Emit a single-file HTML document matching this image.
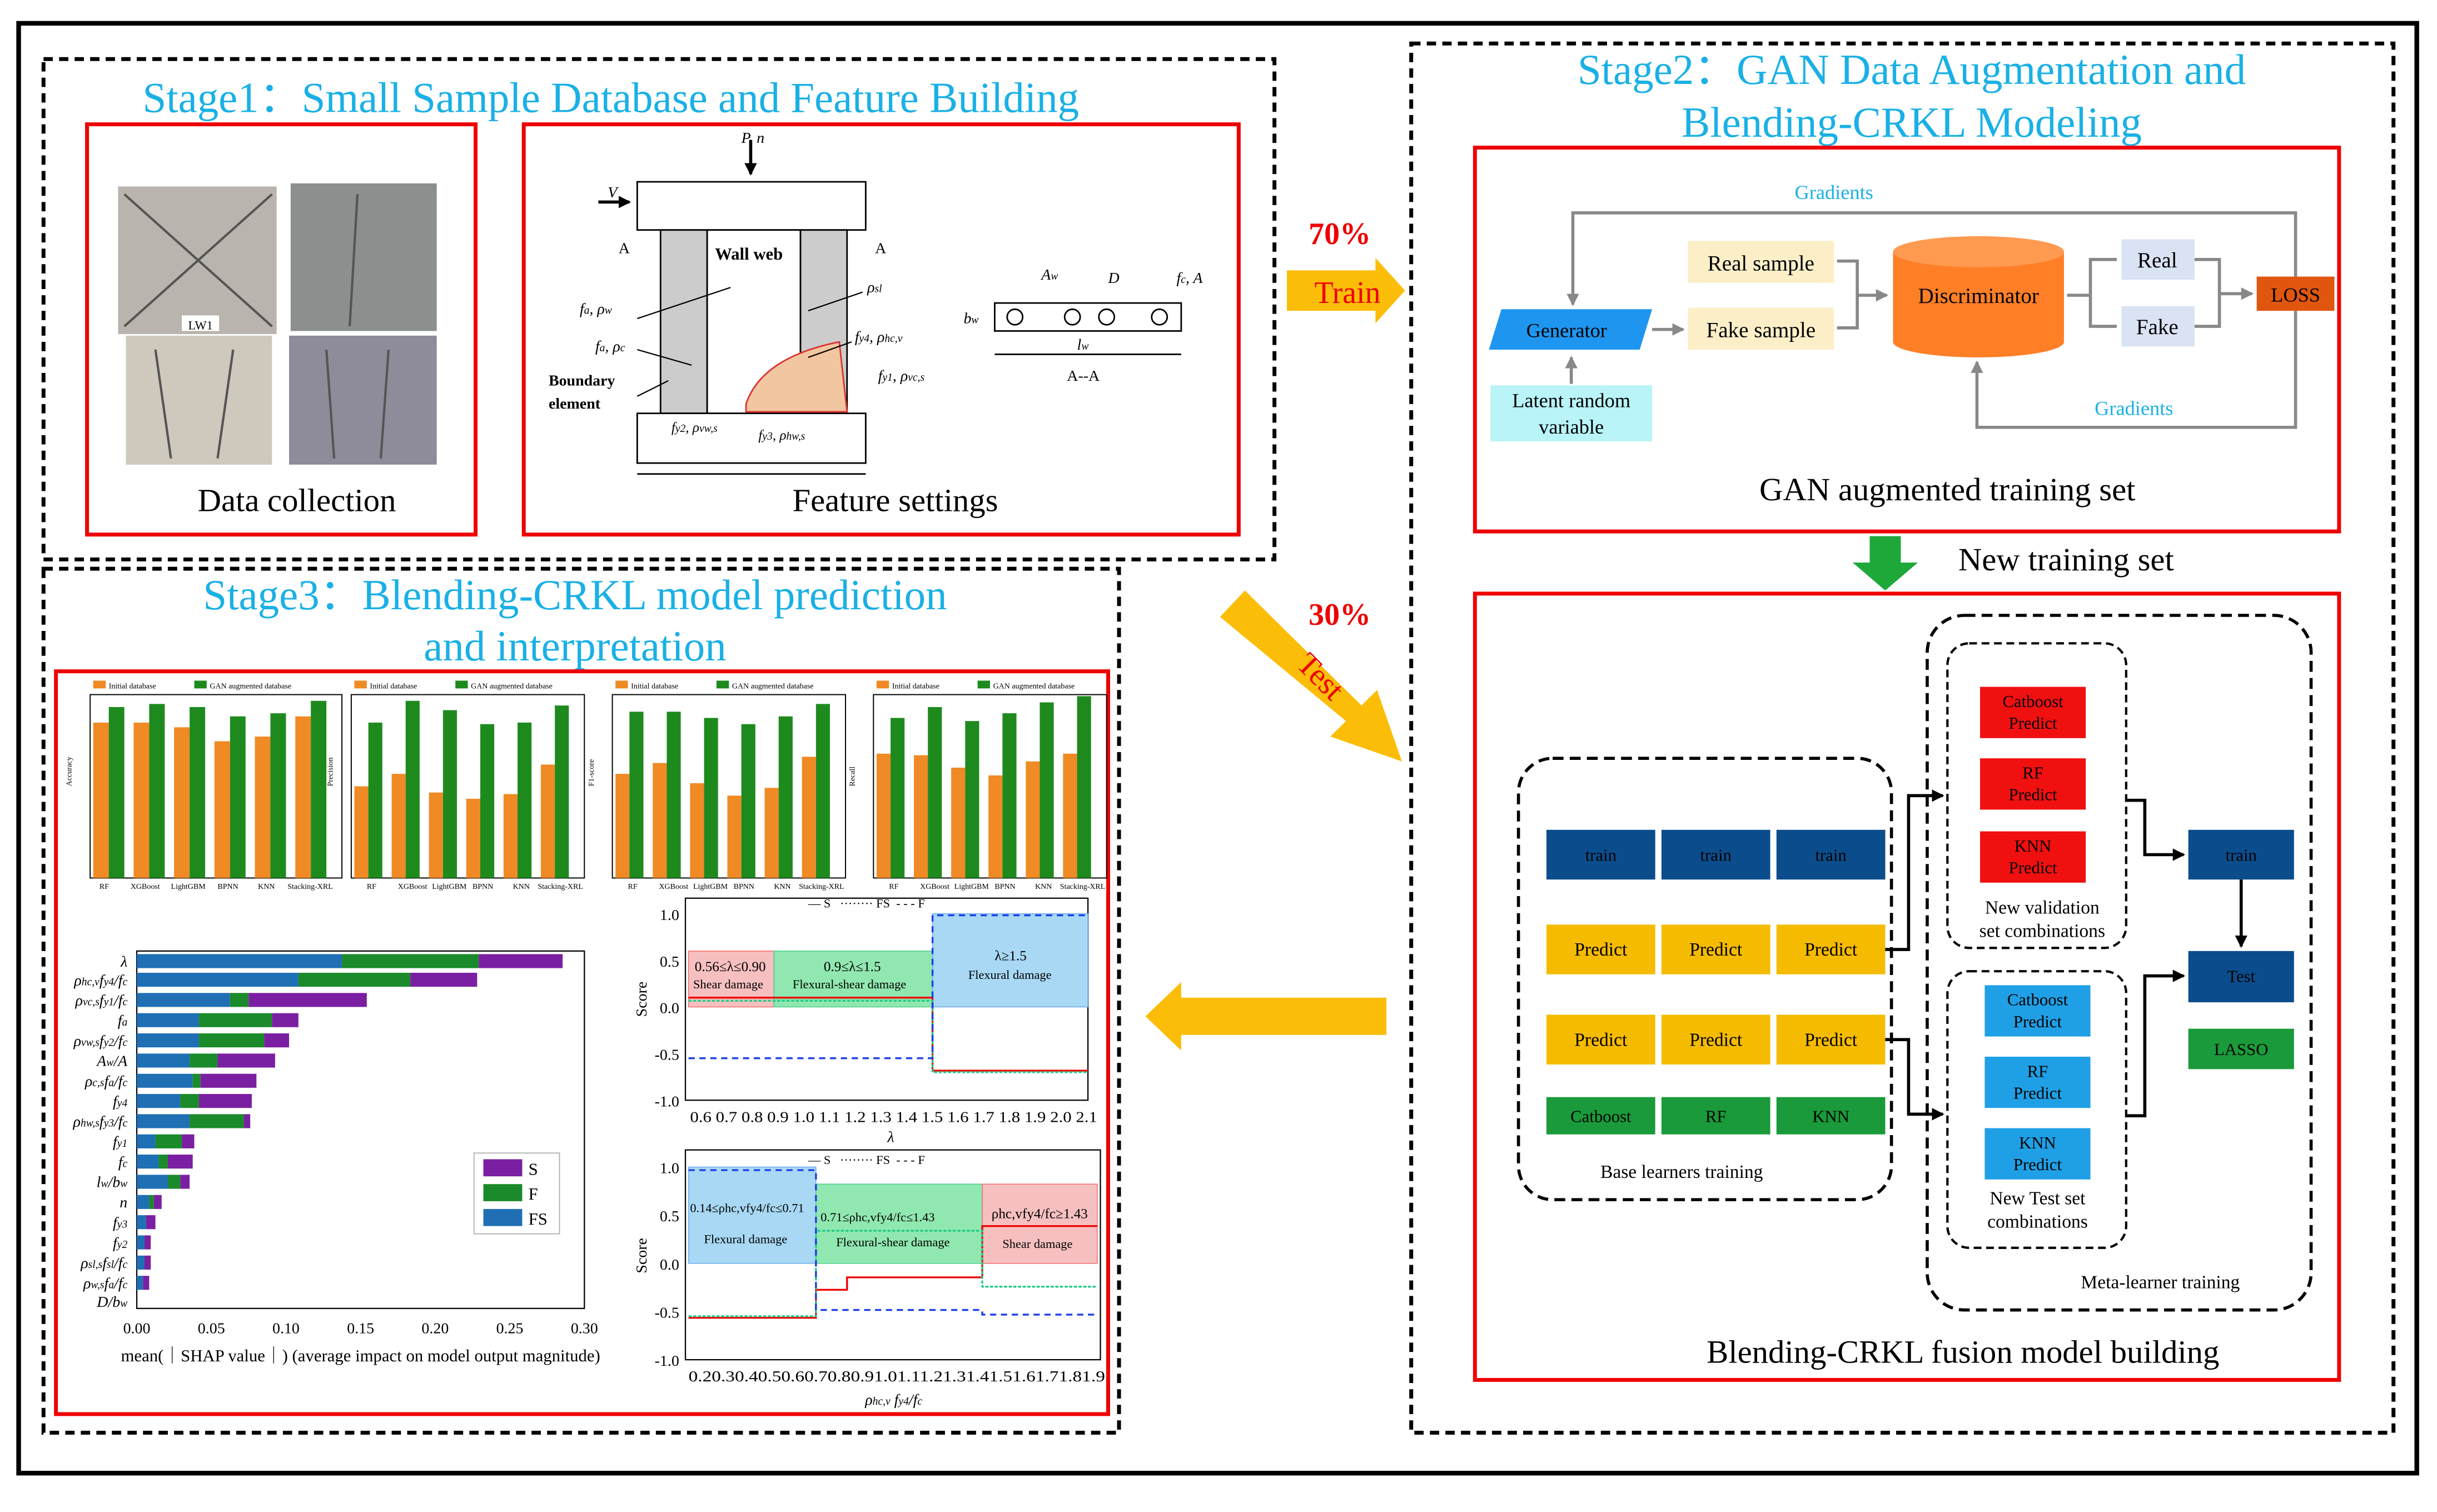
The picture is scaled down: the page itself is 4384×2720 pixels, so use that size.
<!DOCTYPE html>
<html><head><meta charset="utf-8"><style>
html,body{margin:0;padding:0;background:#fff;}
svg{display:block;}
text{font-family:"Liberation Serif",serif;}
</style></head><body>
<svg width="4384" height="2720" viewBox="0 0 1568 973" preserveAspectRatio="none" xmlns="http://www.w3.org/2000/svg">
<defs>
<marker id="ah" markerWidth="8" markerHeight="8" refX="7" refY="4" orient="auto" markerUnits="userSpaceOnUse"><path d="M0,0 L8,4 L0,8 z" fill="#000"/></marker>
<marker id="ahg" markerWidth="8" markerHeight="8" refX="7" refY="4" orient="auto" markerUnits="userSpaceOnUse"><path d="M0,0 L8,4 L0,8 z" fill="#888"/></marker>
</defs>
<rect x="0" y="0" width="1568" height="973" fill="#fff"/>
<rect x="12" y="15" width="1543" height="933" fill="none" stroke="#000" stroke-width="3"/>

<!-- Stage1 -->
<rect x="28" y="38" width="792" height="322" fill="none" stroke="#000" stroke-width="2.5" stroke-dasharray="6,4"/>
<text x="393" y="72" font-size="27.5" fill="#1ab0e6" text-anchor="middle">Stage1：Small Sample Database and Feature Building</text>
<rect x="56" y="80" width="250" height="264" fill="none" stroke="#e00" stroke-width="2.5"/>
<rect x="76" y="120" width="102" height="95" fill="#b9b4ad"/>
<rect x="187" y="118" width="94" height="95" fill="#8b8f8e"/>
<rect x="81" y="216" width="94" height="83" fill="#cfc8bd"/>
<rect x="186" y="216" width="95" height="83" fill="#8e8c9a"/>
<path d="M80,125 L175,210 M175,125 L80,210 M230,125 L225,210 M100,225 L110,295 M150,225 L140,295 M210,225 L215,295 M250,225 L245,295" stroke="#555" stroke-width="1.5"/>
<rect x="117" y="203" width="24" height="10" fill="#fff"/>
<text x="129" y="212" font-size="8" text-anchor="middle">LW1</text>
<text x="191" y="329" font-size="21" text-anchor="middle">Data collection</text>

<rect x="337" y="80" width="460" height="264" fill="none" stroke="#e00" stroke-width="2.5"/>
<rect x="410" y="117" width="147" height="31" fill="#fff" stroke="#000"/>
<rect x="425" y="148" width="30" height="118" fill="#ccc" stroke="#000"/>
<rect x="515" y="148" width="30" height="118" fill="#ccc" stroke="#000"/>
<rect x="455" y="148" width="60" height="118" fill="#fff" stroke="#000"/>
<rect x="410" y="266" width="147" height="32" fill="#fff" stroke="#000"/>
<path d="M410,305 L557,305" stroke="#000"/>
<path d="M480,260 Q490,230 540,220 L545,265 L480,265z" fill="#f2c6a0" stroke="#d33"/>
<path d="M483,90 L483,112" stroke="#000" stroke-width="2" marker-end="url(#ah)"/>
<text x="477" y="92" font-size="10" font-style="italic">P, n</text>
<path d="M385,130 L405,130" stroke="#000" stroke-width="2" marker-end="url(#ah)"/>
<text x="391" y="127" font-size="10" font-style="italic">V</text>
<text x="460" y="167" font-size="11" font-weight="bold">Wall web</text>
<text x="398" y="163" font-size="10">A</text><text x="563" y="163" font-size="10">A</text>
<text x="373" y="202" font-size="10" font-style="italic">f<tspan font-size="7">a</tspan>, ρ<tspan font-size="7">w</tspan></text>
<text x="383" y="226" font-size="10" font-style="italic">f<tspan font-size="7">a</tspan>, ρ<tspan font-size="7">c</tspan></text>
<text x="353" y="248" font-size="10" font-weight="bold">Boundary</text>
<text x="353" y="263" font-size="10" font-weight="bold">element</text>
<text x="558" y="188" font-size="10" font-style="italic">ρ<tspan font-size="7">sl</tspan></text>
<text x="550" y="220" font-size="10" font-style="italic">f<tspan font-size="7">y4</tspan>, ρ<tspan font-size="7">hc,v</tspan></text>
<text x="565" y="245" font-size="10" font-style="italic">f<tspan font-size="7">y1</tspan>, ρ<tspan font-size="7">vc,s</tspan></text>
<text x="432" y="278" font-size="9" font-style="italic">f<tspan font-size="7">y2</tspan>, ρ<tspan font-size="7">vw,s</tspan></text>
<text x="488" y="283" font-size="9" font-style="italic">f<tspan font-size="7">y3</tspan>, ρ<tspan font-size="7">hw,s</tspan></text>
<path d="M410,205 L470,185 M410,225 L445,235 M410,255 L430,245 M555,188 L520,200 M548,220 L520,230" stroke="#000" stroke-width="0.8"/>
<rect x="640" y="195" width="120" height="18" fill="none" stroke="#000"/>
<circle cx="653" cy="204" r="5" fill="none" stroke="#000"/><circle cx="690" cy="204" r="5" fill="none" stroke="#000"/><circle cx="712" cy="204" r="5" fill="none" stroke="#000"/><circle cx="746" cy="204" r="5" fill="none" stroke="#000"/>
<path d="M640,228 L760,228" stroke="#000"/>
<text x="670" y="180" font-size="10" font-style="italic">A<tspan font-size="7">w</tspan></text>
<text x="713" y="182" font-size="10" font-style="italic">D</text>
<text x="757" y="182" font-size="10" font-style="italic">f<tspan font-size="7">c</tspan>, A</text>
<text x="693" y="225" font-size="10" font-style="italic">l<tspan font-size="7">w</tspan></text>
<text x="620" y="208" font-size="10" font-style="italic">b<tspan font-size="7">w</tspan></text>
<text x="697" y="245" font-size="10" text-anchor="middle">A--A</text>
<text x="576" y="329" font-size="21" text-anchor="middle">Feature settings</text>

<!-- 70% Train -->
<text x="862" y="157" font-size="20" font-weight="bold" fill="#e00" text-anchor="middle">70%</text>
<path d="M828,174 L885,174 L885,166 L904,187 L885,208 L885,200 L828,200z" fill="#fbbd08"/>
<text x="867" y="195" font-size="20" fill="#e00" text-anchor="middle">Train</text>
<text x="862" y="402" font-size="20" font-weight="bold" fill="#e00" text-anchor="middle">30%</text>
<path d="M785,397 L801,380 L876,454 L886,444 L902,490 L856,474 L866,464z" fill="#fbbd08"/>
<text x="845" y="440" font-size="20" fill="#e00" text-anchor="middle" transform="rotate(45 845 440)">Test</text>
<path d="M737,654 L760,632 L760,642 L892,642 L892,666 L760,666 L760,676z" fill="#fbbd08"/>

<!-- Stage2 -->
<rect x="908" y="28" width="632" height="894" fill="none" stroke="#000" stroke-width="2.5" stroke-dasharray="6,4"/>
<text x="1230" y="54" font-size="27.5" fill="#1ab0e6" text-anchor="middle">Stage2：GAN Data Augmentation and</text>
<text x="1230" y="88" font-size="27.5" fill="#1ab0e6" text-anchor="middle">Blending-CRKL Modeling</text>
<rect x="949" y="95" width="556" height="247" fill="none" stroke="#e00" stroke-width="2.5"/>
<text x="1180" y="128" font-size="13" fill="#1ab0e6" text-anchor="middle" font-family="Liberation Sans">Gradients</text>
<path d="M1477,178 L1477,137 L1012,137 L1012,196" fill="none" stroke="#888" stroke-width="2" marker-end="url(#ahg)"/>
<path d="M1477,200 L1477,275 L1272,275 L1272,233" fill="none" stroke="#888" stroke-width="2" marker-end="url(#ahg)"/>
<text x="1373" y="267" font-size="13" fill="#1ab0e6" text-anchor="middle" font-family="Liberation Sans">Gradients</text>
<path d="M966,199 L1063,199 L1055,225 L958,225z" fill="#1e96f0"/>
<text x="1008" y="217" font-size="13" text-anchor="middle" font-family="Liberation Sans">Generator</text>
<rect x="959" y="248" width="104" height="36" fill="#b8f4f8"/>
<text x="1011" y="262" font-size="13" text-anchor="middle">Latent random</text>
<text x="1011" y="279" font-size="13" text-anchor="middle">variable</text>
<path d="M1011,247 L1011,230" stroke="#888" stroke-width="2" marker-end="url(#ahg)"/>
<path d="M1063,212 L1083,212" stroke="#888" stroke-width="2" marker-end="url(#ahg)"/>
<rect x="1086" y="155" width="94" height="27" fill="#fcefc8"/>
<text x="1133" y="174" font-size="14" text-anchor="middle">Real sample</text>
<rect x="1086" y="198" width="94" height="27" fill="#fcefc8"/>
<text x="1133" y="217" font-size="14" text-anchor="middle">Fake sample</text>
<path d="M1182,168 L1195,168 L1195,190 M1182,211 L1195,211 L1195,190 L1214,190" fill="none" stroke="#888" stroke-width="2" marker-end="url(#ahg)"/>
<path d="M1218,162 L1218,220 A55,10 0 0 0 1328,220 L1328,162z" fill="#ff7f27"/>
<ellipse cx="1273" cy="162" rx="55" ry="10" fill="#ff9a50"/>
<text x="1273" y="195" font-size="14" text-anchor="middle" font-family="Liberation Sans">Discriminator</text>
<path d="M1330,190 L1345,190 L1345,167 L1362,167 M1345,190 L1345,210 L1362,210" fill="none" stroke="#888" stroke-width="2"/>
<rect x="1365" y="154" width="47" height="26" fill="#d9e3f3"/>
<text x="1388" y="172" font-size="14" text-anchor="middle">Real</text>
<rect x="1365" y="197" width="47" height="26" fill="#d9e3f3"/>
<text x="1388" y="215" font-size="14" text-anchor="middle">Fake</text>
<path d="M1412,167 L1428,167 L1428,189 M1412,210 L1428,210 L1428,189 L1449,189" fill="none" stroke="#888" stroke-width="2" marker-end="url(#ahg)"/>
<rect x="1452" y="178" width="50" height="22" fill="#e0560e"/>
<text x="1477" y="194" font-size="13" text-anchor="middle" font-family="Liberation Sans">LOSS</text>
<text x="1253" y="322" font-size="21" text-anchor="middle">GAN augmented training set</text>

<path d="M1203,345 L1223,345 L1223,362 L1234,362 L1213,380 L1192,362 L1203,362z" fill="#1ea83a"/>
<text x="1260" y="367" font-size="21">New training set</text>

<rect x="949" y="382" width="556" height="506" fill="none" stroke="#e00" stroke-width="2.5"/>
<rect x="977" y="488" width="240" height="284" rx="22" fill="none" stroke="#000" stroke-width="2" stroke-dasharray="7,4"/>
<rect x="1240" y="396" width="247" height="447" rx="24" fill="none" stroke="#000" stroke-width="2" stroke-dasharray="7,4"/>
<rect x="1253" y="414" width="115" height="196" rx="14" fill="none" stroke="#000" stroke-width="1.5" stroke-dasharray="5,3"/>
<rect x="1253" y="625" width="115" height="178" rx="14" fill="none" stroke="#000" stroke-width="1.5" stroke-dasharray="5,3"/>
<g font-family="Liberation Sans" font-size="11" text-anchor="middle">
<rect x="995" y="534" width="70" height="32" fill="#0b4d8c"/><text x="1030" y="554">train</text>
<rect x="1069" y="534" width="70" height="32" fill="#0b4d8c"/><text x="1104" y="554">train</text>
<rect x="1143" y="534" width="70" height="32" fill="#0b4d8c"/><text x="1178" y="554">train</text>
<rect x="995" y="595" width="70" height="32" fill="#f5bb00"/><text x="1030" y="615" font-size="12">Predict</text>
<rect x="1069" y="595" width="70" height="32" fill="#f5bb00"/><text x="1104" y="615" font-size="12">Predict</text>
<rect x="1143" y="595" width="70" height="32" fill="#f5bb00"/><text x="1178" y="615" font-size="12">Predict</text>
<rect x="995" y="653" width="70" height="32" fill="#f5bb00"/><text x="1030" y="673" font-size="12">Predict</text>
<rect x="1069" y="653" width="70" height="32" fill="#f5bb00"/><text x="1104" y="673" font-size="12">Predict</text>
<rect x="1143" y="653" width="70" height="32" fill="#f5bb00"/><text x="1178" y="673" font-size="12">Predict</text>
<rect x="995" y="706" width="70" height="24" fill="#1a9a3a"/><text x="1030" y="722">Catboost</text>
<rect x="1069" y="706" width="70" height="24" fill="#1a9a3a"/><text x="1104" y="722">RF</text>
<rect x="1143" y="706" width="70" height="24" fill="#1a9a3a"/><text x="1178" y="722">KNN</text>
<rect x="1274" y="442" width="68" height="33" fill="#f01010"/><text x="1308" y="455">Catboost</text><text x="1308" y="469">Predict</text>
<rect x="1274" y="488" width="68" height="33" fill="#f01010"/><text x="1308" y="501">RF</text><text x="1308" y="515">Predict</text>
<rect x="1274" y="535" width="68" height="33" fill="#f01010"/><text x="1308" y="548">KNN</text><text x="1308" y="562">Predict</text>
<rect x="1277" y="634" width="68" height="33" fill="#1fa0e6"/><text x="1311" y="647">Catboost</text><text x="1311" y="661">Predict</text>
<rect x="1277" y="680" width="68" height="33" fill="#1fa0e6"/><text x="1311" y="693">RF</text><text x="1311" y="707">Predict</text>
<rect x="1277" y="726" width="68" height="33" fill="#1fa0e6"/><text x="1311" y="739">KNN</text><text x="1311" y="753">Predict</text>
<rect x="1408" y="534" width="68" height="32" fill="#0b4d8c"/><text x="1442" y="554">train</text>
<rect x="1408" y="612" width="68" height="33" fill="#0b4d8c"/><text x="1442" y="632">Test</text>
<rect x="1408" y="662" width="68" height="26" fill="#1a9a3a"/><text x="1442" y="679">LASSO</text>
</g>
<g font-size="12" text-anchor="middle">
<text x="1314" y="588">New validation</text><text x="1314" y="603">set combinations</text>
<text x="1311" y="775">New Test set</text><text x="1311" y="790">combinations</text>
<text x="1082" y="758">Base learners training</text>
<text x="1390" y="829">Meta-learner training</text>
</g>
<path d="M1213,611 L1228,611 L1228,512 L1250,512" fill="none" stroke="#000" stroke-width="2" marker-end="url(#ah)"/>
<path d="M1213,669 L1228,669 L1228,717 L1250,717" fill="none" stroke="#000" stroke-width="2" marker-end="url(#ah)"/>
<path d="M1368,515 L1380,515 L1380,550 L1405,550" fill="none" stroke="#000" stroke-width="2" marker-end="url(#ah)"/>
<path d="M1368,718 L1380,718 L1380,628 L1405,628" fill="none" stroke="#000" stroke-width="2" marker-end="url(#ah)"/>
<path d="M1442,566 L1442,609" stroke="#000" stroke-width="2" marker-end="url(#ah)"/>
<text x="1263" y="877" font-size="21" text-anchor="middle">Blending-CRKL fusion model building</text>

<!-- Stage3 -->
<rect x="28" y="366" width="692" height="556" fill="none" stroke="#000" stroke-width="2.5" stroke-dasharray="6,4"/>
<text x="370" y="392" font-size="27.5" fill="#1ab0e6" text-anchor="middle">Stage3：Blending-CRKL model prediction</text>
<text x="370" y="425" font-size="27.5" fill="#1ab0e6" text-anchor="middle">and interpretation</text>
<rect x="36" y="432" width="677" height="478" fill="none" stroke="#e00" stroke-width="2.5"/>

<g font-size="5" font-family="Liberation Sans">
<g transform="translate(40,436)">
<rect x="20" y="2" width="8" height="5" fill="#f08a24"/><text x="30" y="7">Initial database</text>
<rect x="85" y="2" width="8" height="5" fill="#1e8a1e"/><text x="95" y="7">GAN augmented database</text>
<rect x="18" y="11" width="162" height="118" fill="none" stroke="#000" stroke-width="0.7"/>
<text x="6" y="70" transform="rotate(-90 6 70)">Accuracy</text>
<g transform="translate(18,129)">
<rect x="2" y="-100" width="10" height="100" fill="#f08a24"/><rect x="12" y="-110" width="10" height="110" fill="#1e8a1e"/>
<rect x="28" y="-100" width="10" height="100" fill="#f08a24"/><rect x="38" y="-112" width="10" height="112" fill="#1e8a1e"/>
<rect x="54" y="-97" width="10" height="97" fill="#f08a24"/><rect x="64" y="-110" width="10" height="110" fill="#1e8a1e"/>
<rect x="80" y="-88" width="10" height="88" fill="#f08a24"/><rect x="90" y="-104" width="10" height="104" fill="#1e8a1e"/>
<rect x="106" y="-91" width="10" height="91" fill="#f08a24"/><rect x="116" y="-106" width="10" height="106" fill="#1e8a1e"/>
<rect x="132" y="-104" width="10" height="104" fill="#f08a24"/><rect x="142" y="-114" width="10" height="114" fill="#1e8a1e"/>
</g>
<text x="24" y="136">RF</text><text x="44" y="136">XGBoost</text><text x="70" y="136">LightGBM</text><text x="100" y="136">BPNN</text><text x="126" y="136">KNN</text><text x="145" y="136">Stacking-XRL</text>
</g>
<g transform="translate(208,436)">
<rect x="20" y="2" width="8" height="5" fill="#f08a24"/><text x="30" y="7">Initial database</text>
<rect x="85" y="2" width="8" height="5" fill="#1e8a1e"/><text x="95" y="7">GAN augmented database</text>
<rect x="18" y="11" width="150" height="118" fill="none" stroke="#000" stroke-width="0.7"/>
<text x="6" y="70" transform="rotate(-90 6 70)">Precision</text>
<g transform="translate(18,129)">
<rect x="2" y="-59" width="9" height="59" fill="#f08a24"/><rect x="11" y="-100" width="9" height="100" fill="#1e8a1e"/>
<rect x="26" y="-67" width="9" height="67" fill="#f08a24"/><rect x="35" y="-114" width="9" height="114" fill="#1e8a1e"/>
<rect x="50" y="-55" width="9" height="55" fill="#f08a24"/><rect x="59" y="-108" width="9" height="108" fill="#1e8a1e"/>
<rect x="74" y="-51" width="9" height="51" fill="#f08a24"/><rect x="83" y="-99" width="9" height="99" fill="#1e8a1e"/>
<rect x="98" y="-54" width="9" height="54" fill="#f08a24"/><rect x="107" y="-100" width="9" height="100" fill="#1e8a1e"/>
<rect x="122" y="-73" width="9" height="73" fill="#f08a24"/><rect x="131" y="-111" width="9" height="111" fill="#1e8a1e"/>
</g>
<text x="28" y="136">RF</text><text x="48" y="136">XGBoost</text><text x="70" y="136">LightGBM</text><text x="96" y="136">BPNN</text><text x="122" y="136">KNN</text><text x="138" y="136">Stacking-XRL</text>
</g>
<g transform="translate(376,436)">
<rect x="20" y="2" width="8" height="5" fill="#f08a24"/><text x="30" y="7">Initial database</text>
<rect x="85" y="2" width="8" height="5" fill="#1e8a1e"/><text x="95" y="7">GAN augmented database</text>
<rect x="18" y="11" width="150" height="118" fill="none" stroke="#000" stroke-width="0.7"/>
<text x="6" y="70" transform="rotate(-90 6 70)">F1-score</text>
<g transform="translate(18,129)">
<rect x="2" y="-67" width="9" height="67" fill="#f08a24"/><rect x="11" y="-107" width="9" height="107" fill="#1e8a1e"/>
<rect x="26" y="-74" width="9" height="74" fill="#f08a24"/><rect x="35" y="-107" width="9" height="107" fill="#1e8a1e"/>
<rect x="50" y="-61" width="9" height="61" fill="#f08a24"/><rect x="59" y="-103" width="9" height="103" fill="#1e8a1e"/>
<rect x="74" y="-53" width="9" height="53" fill="#f08a24"/><rect x="83" y="-99" width="9" height="99" fill="#1e8a1e"/>
<rect x="98" y="-58" width="9" height="58" fill="#f08a24"/><rect x="107" y="-104" width="9" height="104" fill="#1e8a1e"/>
<rect x="122" y="-78" width="9" height="78" fill="#f08a24"/><rect x="131" y="-112" width="9" height="112" fill="#1e8a1e"/>
</g>
<text x="28" y="136">RF</text><text x="48" y="136">XGBoost</text><text x="70" y="136">LightGBM</text><text x="96" y="136">BPNN</text><text x="122" y="136">KNN</text><text x="138" y="136">Stacking-XRL</text>
</g>
<g transform="translate(544,436)">
<rect x="20" y="2" width="8" height="5" fill="#f08a24"/><text x="30" y="7">Initial database</text>
<rect x="85" y="2" width="8" height="5" fill="#1e8a1e"/><text x="95" y="7">GAN augmented database</text>
<rect x="18" y="11" width="150" height="118" fill="none" stroke="#000" stroke-width="0.7"/>
<text x="6" y="70" transform="rotate(-90 6 70)">Recall</text>
<g transform="translate(18,129)">
<rect x="2" y="-80" width="9" height="80" fill="#f08a24"/><rect x="11" y="-103" width="9" height="103" fill="#1e8a1e"/>
<rect x="26" y="-79" width="9" height="79" fill="#f08a24"/><rect x="35" y="-110" width="9" height="110" fill="#1e8a1e"/>
<rect x="50" y="-71" width="9" height="71" fill="#f08a24"/><rect x="59" y="-101" width="9" height="101" fill="#1e8a1e"/>
<rect x="74" y="-66" width="9" height="66" fill="#f08a24"/><rect x="83" y="-106" width="9" height="106" fill="#1e8a1e"/>
<rect x="98" y="-75" width="9" height="75" fill="#f08a24"/><rect x="107" y="-113" width="9" height="113" fill="#1e8a1e"/>
<rect x="122" y="-80" width="9" height="80" fill="#f08a24"/><rect x="131" y="-117" width="9" height="117" fill="#1e8a1e"/>
</g>
<text x="28" y="136">RF</text><text x="48" y="136">XGBoost</text><text x="70" y="136">LightGBM</text><text x="96" y="136">BPNN</text><text x="122" y="136">KNN</text><text x="138" y="136">Stacking-XRL</text>
</g>
</g>

<!-- SHAP chart -->
<rect x="88" y="612" width="288" height="230" fill="none" stroke="#000" stroke-width="0.8"/>
<g>
<rect x="88" y="614" width="132" height="9" fill="#1f6fb4"/><rect x="220" y="614" width="88" height="9" fill="#1a8a2a"/><rect x="308" y="614" width="54" height="9" fill="#7b1fa2"/>
<rect x="88" y="626" width="104" height="9" fill="#1f6fb4"/><rect x="192" y="626" width="72" height="9" fill="#1a8a2a"/><rect x="264" y="626" width="43" height="9" fill="#7b1fa2"/>
<rect x="88" y="639" width="60" height="9" fill="#1f6fb4"/><rect x="148" y="639" width="12" height="9" fill="#1a8a2a"/><rect x="160" y="639" width="76" height="9" fill="#7b1fa2"/>
<rect x="88" y="652" width="40" height="9" fill="#1f6fb4"/><rect x="128" y="652" width="47" height="9" fill="#1a8a2a"/><rect x="175" y="652" width="17" height="9" fill="#7b1fa2"/>
<rect x="88" y="665" width="40" height="9" fill="#1f6fb4"/><rect x="128" y="665" width="42" height="9" fill="#1a8a2a"/><rect x="170" y="665" width="16" height="9" fill="#7b1fa2"/>
<rect x="88" y="678" width="34" height="9" fill="#1f6fb4"/><rect x="122" y="678" width="18" height="9" fill="#1a8a2a"/><rect x="140" y="678" width="37" height="9" fill="#7b1fa2"/>
<rect x="88" y="691" width="36" height="9" fill="#1f6fb4"/><rect x="124" y="691" width="5" height="9" fill="#1a8a2a"/><rect x="129" y="691" width="36" height="9" fill="#7b1fa2"/>
<rect x="88" y="704" width="28" height="9" fill="#1f6fb4"/><rect x="116" y="704" width="12" height="9" fill="#1a8a2a"/><rect x="128" y="704" width="34" height="9" fill="#7b1fa2"/>
<rect x="88" y="717" width="34" height="9" fill="#1f6fb4"/><rect x="122" y="717" width="35" height="9" fill="#1a8a2a"/><rect x="157" y="717" width="4" height="9" fill="#7b1fa2"/>
<rect x="88" y="730" width="12" height="9" fill="#1f6fb4"/><rect x="100" y="730" width="17" height="9" fill="#1a8a2a"/><rect x="117" y="730" width="8" height="9" fill="#7b1fa2"/>
<rect x="88" y="743" width="14" height="9" fill="#1f6fb4"/><rect x="102" y="743" width="6" height="9" fill="#1a8a2a"/><rect x="108" y="743" width="16" height="9" fill="#7b1fa2"/>
<rect x="88" y="756" width="20" height="9" fill="#1f6fb4"/><rect x="108" y="756" width="8" height="9" fill="#1a8a2a"/><rect x="116" y="756" width="6" height="9" fill="#7b1fa2"/>
<rect x="88" y="769" width="8" height="9" fill="#1f6fb4"/><rect x="96" y="769" width="3" height="9" fill="#1a8a2a"/><rect x="99" y="769" width="5" height="9" fill="#7b1fa2"/>
<rect x="88" y="782" width="6" height="9" fill="#1f6fb4"/><rect x="94" y="782" width="6" height="9" fill="#7b1fa2"/>
<rect x="88" y="795" width="5" height="9" fill="#1f6fb4"/><rect x="93" y="795" width="4" height="9" fill="#7b1fa2"/>
<rect x="88" y="808" width="5" height="9" fill="#1f6fb4"/><rect x="93" y="808" width="4" height="9" fill="#7b1fa2"/>
<rect x="88" y="821" width="4" height="9" fill="#1f6fb4"/><rect x="92" y="821" width="4" height="9" fill="#7b1fa2"/>
</g>
<g font-size="10" font-style="italic" text-anchor="end">
<text x="82" y="622">λ</text><text x="82" y="634">ρ<tspan font-size="7">hc,v</tspan>f<tspan font-size="7">y4</tspan>/f<tspan font-size="7">c</tspan></text>
<text x="82" y="647">ρ<tspan font-size="7">vc,s</tspan>f<tspan font-size="7">y1</tspan>/f<tspan font-size="7">c</tspan></text>
<text x="82" y="660">f<tspan font-size="7">a</tspan></text>
<text x="82" y="673">ρ<tspan font-size="7">vw,s</tspan>f<tspan font-size="7">y2</tspan>/f<tspan font-size="7">c</tspan></text>
<text x="82" y="686">A<tspan font-size="7">w</tspan>/A</text>
<text x="82" y="699">ρ<tspan font-size="7">c,s</tspan>f<tspan font-size="7">a</tspan>/f<tspan font-size="7">c</tspan></text>
<text x="82" y="712">f<tspan font-size="7">y4</tspan></text>
<text x="82" y="725">ρ<tspan font-size="7">hw,s</tspan>f<tspan font-size="7">y3</tspan>/f<tspan font-size="7">c</tspan></text>
<text x="82" y="738">f<tspan font-size="7">y1</tspan></text>
<text x="82" y="751">f<tspan font-size="7">c</tspan></text>
<text x="82" y="764">l<tspan font-size="7">w</tspan>/b<tspan font-size="7">w</tspan></text>
<text x="82" y="777">n</text>
<text x="82" y="790">f<tspan font-size="7">y3</tspan></text>
<text x="82" y="803">f<tspan font-size="7">y2</tspan></text>
<text x="82" y="816">ρ<tspan font-size="7">sl,s</tspan>f<tspan font-size="7">sl</tspan>/f<tspan font-size="7">c</tspan></text>
<text x="82" y="829">ρ<tspan font-size="7">w,s</tspan>f<tspan font-size="7">a</tspan>/f<tspan font-size="7">c</tspan></text>
<text x="82" y="841">D/b<tspan font-size="7">w</tspan></text>
</g>
<g font-size="10" text-anchor="middle">
<text x="88" y="858">0.00</text><text x="136" y="858">0.05</text><text x="184" y="858">0.10</text><text x="232" y="858">0.15</text><text x="280" y="858">0.20</text><text x="328" y="858">0.25</text><text x="376" y="858">0.30</text>
<text x="232" y="876" font-size="11">mean(｜SHAP value｜) (average impact on model output magnitude)</text>
</g>
<rect x="305" y="742" width="55" height="52" fill="#fff" stroke="#aaa" stroke-width="0.6"/>
<rect x="311" y="746" width="25" height="11" fill="#7b1fa2"/><text x="340" y="756" font-size="11">S</text>
<rect x="311" y="762" width="25" height="11" fill="#1a8a2a"/><text x="340" y="772" font-size="11">F</text>
<rect x="311" y="778" width="25" height="11" fill="#1f6fb4"/><text x="340" y="788" font-size="11">FS</text>

<!-- step plot 1 -->
<rect x="441" y="578" width="259" height="130" fill="none" stroke="#000" stroke-width="0.8"/>
<rect x="443" y="612" width="55" height="36" fill="#f7c0c0" stroke="#e66" stroke-width="0.5"/>
<rect x="498" y="612" width="102" height="36" fill="#90e8b0" stroke="#4c8" stroke-width="0.5"/>
<rect x="600" y="588" width="100" height="60" fill="#a8d8f4" stroke="#6ae" stroke-width="0.5"/>
<path d="M443,642 L600,642 L600,689 L700,689" fill="none" stroke="#e00" stroke-width="1.2"/>
<path d="M443,644 L600,644 L600,690 L700,690" fill="none" stroke="#2c8" stroke-width="1.2" stroke-dasharray="2,1"/>
<path d="M443,681 L600,681 L600,589 L700,589" fill="none" stroke="#1a3ee8" stroke-width="1.2" stroke-dasharray="4,3"/>
<g font-size="9">
<text x="447" y="625">0.56≤λ≤0.90</text><text x="446" y="636" font-size="8">Shear damage</text>
<text x="530" y="625">0.9≤λ≤1.5</text><text x="510" y="636" font-size="8">Flexural-shear damage</text>
<text x="640" y="618">λ≥1.5</text><text x="623" y="630" font-size="8">Flexural damage</text>
<text x="520" y="584" font-size="8">— S &#160;&#160;········ FS &#160;- - - F</text>
</g>
<g font-size="10" text-anchor="end">
<text x="437" y="592">1.0</text><text x="437" y="622">0.5</text><text x="437" y="652">0.0</text><text x="437" y="682">-0.5</text><text x="437" y="712">-1.0</text>
</g>
<text x="416" y="643" font-size="10" transform="rotate(-90 416 643)" text-anchor="middle">Score</text>
<text x="575" y="722" font-size="10" text-anchor="middle" textLength="262" lengthAdjust="spacingAndGlyphs">0.6 0.7 0.8 0.9 1.0 1.1 1.2 1.3 1.4 1.5 1.6 1.7 1.8 1.9 2.0 2.1</text>
<text x="571" y="735" font-size="10" font-style="italic">λ</text>

<!-- step plot 2 -->
<rect x="441" y="740" width="267" height="135" fill="none" stroke="#000" stroke-width="0.8"/>
<rect x="443" y="751" width="82" height="62" fill="#a8d8f4" stroke="#6ae" stroke-width="0.5"/>
<rect x="525" y="762" width="107" height="51" fill="#90e8b0" stroke="#4c8" stroke-width="0.5"/>
<rect x="632" y="762" width="74" height="51" fill="#f7c0c0" stroke="#e66" stroke-width="0.5"/>
<path d="M443,848 L525,848 L525,830 L545,830 L545,822 L632,822 L632,789 L706,789" fill="none" stroke="#e00" stroke-width="1.2"/>
<path d="M443,847 L525,847 L525,792 L632,792 L632,828 L706,828" fill="none" stroke="#2c8" stroke-width="1.2" stroke-dasharray="2,1"/>
<path d="M443,753 L525,753 L525,843 L632,843 L632,846 L706,846" fill="none" stroke="#1a3ee8" stroke-width="1.2" stroke-dasharray="4,3"/>
<g font-size="8">
<text x="444" y="780">0.14≤ρhc,vfy4/fc≤0.71</text><text x="453" y="800">Flexural damage</text>
<text x="528" y="786">0.71≤ρhc,vfy4/fc≤1.43</text><text x="538" y="802">Flexural-shear damage</text>
<text x="638" y="784" font-size="9">ρhc,vfy4/fc≥1.43</text><text x="645" y="803">Shear damage</text>
<text x="520" y="749">— S &#160;&#160;········ FS &#160;- - - F</text>
</g>
<g font-size="10" text-anchor="end">
<text x="437" y="755">1.0</text><text x="437" y="786">0.5</text><text x="437" y="817">0.0</text><text x="437" y="848">-0.5</text><text x="437" y="879">-1.0</text>
</g>
<text x="416" y="808" font-size="10" transform="rotate(-90 416 808)" text-anchor="middle">Score</text>
<text x="577" y="889" font-size="10" text-anchor="middle" textLength="268" lengthAdjust="spacingAndGlyphs">0.20.30.40.50.60.70.80.91.01.11.21.31.41.51.61.71.81.9</text>
<text x="575" y="904" font-size="10" font-style="italic" text-anchor="middle">ρ<tspan font-size="7">hc,v</tspan> f<tspan font-size="7">y4</tspan>/f<tspan font-size="7">c</tspan></text>
</svg>
</body></html>
